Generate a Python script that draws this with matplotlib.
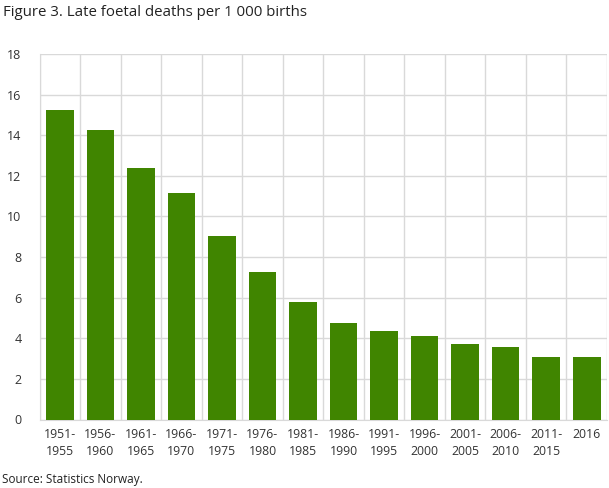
import numpy as np
import matplotlib.pyplot as plt

# figure 3 - late foetal deaths
periods = ['1951-\n1955', '1956-\n1960', '1961-\n1965', '1966-\n1970', '1971-\n1975',
           '1976-\n1980', '1981-\n1985', '1986-\n1990', '1991-\n1995', '1996-\n2000',
           '2001-\n2005', '2006-\n2010', '2011-\n2015', '2016']
deaths = [15.25, 14.26, 12.39, 11.16, 9.04, 7.26, 5.78, 4.75, 4.36, 4.11, 3.70, 3.56, 3.07, 3.07]
yticks = [0, 2, 4, 6, 8, 10, 12, 14, 16, 18]

plt.rcParams['font.family'] = ['Open Sans', 'DejaVu Sans']

fig = plt.figure(figsize=(6.09, 4.88), dpi=100)
ax = fig.add_axes([39.5 / 609, 1 - 419.5 / 488, (607 - 39.5) / 609, (419.5 - 54) / 488])

x = np.arange(len(deaths))
ax.bar(x, deaths, width=0.68, color='#408500', zorder=3)

ax.set_xlim(-0.5, len(deaths) - 0.5)
ax.set_ylim(0, 18)
ax.set_yticks(yticks)
ax.set_xticks(x)
ax.set_xticklabels(periods, fontsize=8.8, color='#333333', linespacing=1.45)
ax.tick_params(axis='y', labelsize=9, colors='#333333', length=0, pad=13)
ax.tick_params(axis='x', length=0, pad=6)

# vertical grid between categories
ax.set_xticks(np.arange(len(deaths) + 1) - 0.5, minor=True)
ax.grid(True, which='minor', axis='x', color='#d9d9d9', lw=1, zorder=0)
ax.grid(True, which='major', axis='y', color='#d9d9d9', lw=1, zorder=0)
ax.tick_params(which='minor', length=0)

for s in ['top', 'right']:
    ax.spines[s].set_visible(False)
ax.spines['left'].set_color('#d9d9d9')
ax.spines['bottom'].set_color('#d9d9d9')

fig.text(3 / 609, 1 - 13 / 488, 'Figure 3. Late foetal deaths per 1 000 births',
         fontsize=10.8, color='#222222', va='center', ha='left')
fig.text(2 / 609, 1 - 480 / 488, 'Source: Statistics Norway.',
         fontsize=8.5, color='#222222', va='center', ha='left')

fig.savefig('out.png', dpi=100)
